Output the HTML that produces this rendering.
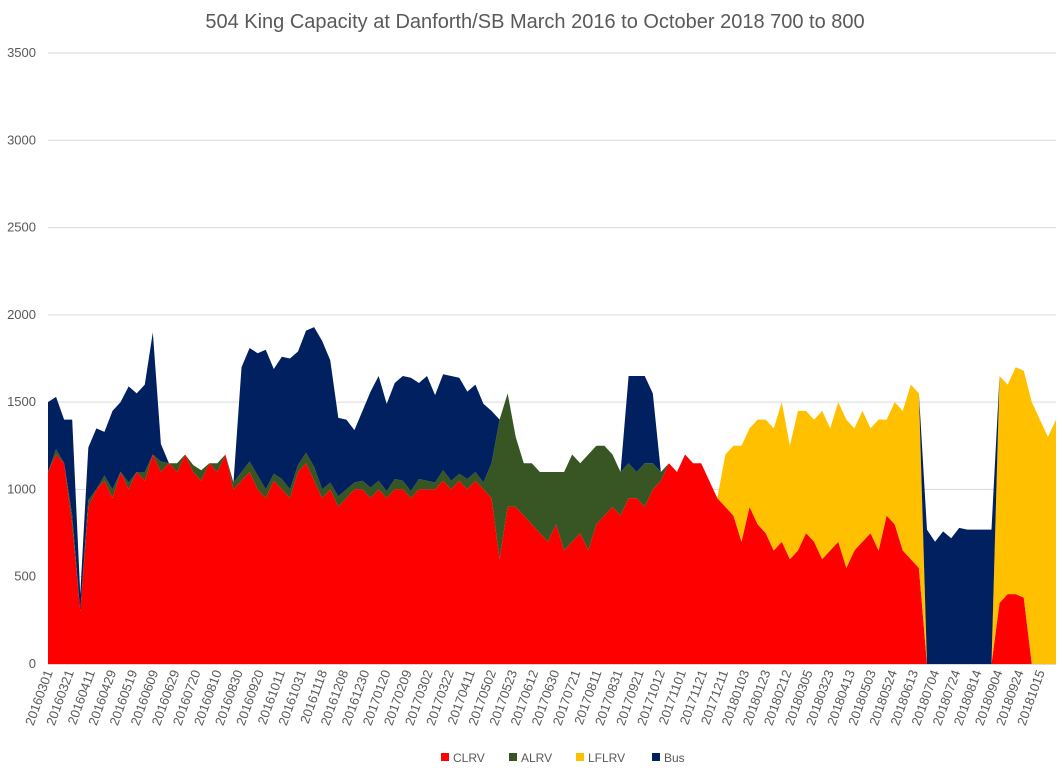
<!DOCTYPE html>
<html><head><meta charset="utf-8"><style>
html,body{margin:0;padding:0;background:#fff;}
svg{display:block;font-family:"Liberation Sans",sans-serif;}
</style></head><body>
<svg id="chart" width="1062" height="768">
<text x="535" y="28" text-anchor="middle" font-size="20" fill="#595959">504 King Capacity at Danforth/SB March 2016 to October 2018  700 to 800</text>
<g id="grid"></g><g id="areas"></g><g id="yticks"></g><g id="xticks"></g>
<g id="legend"></g>
</svg>
<script>
const yTicks=[0,500,1000,1500,2000,2500,3000,3500];
const xLabels=["20160301","20160321","20160411","20160429","20160519","20160609","20160629","20160720","20160810","20160830","20160920","20161011","20161031","20161118","20161208","20161230","20170120","20170209","20170302","20170322","20170411","20170502","20170523","20170612","20170630","20170721","20170811","20170831","20170921","20171012","20171101","20171121","20171211","20180103","20180123","20180212","20180305","20180323","20180413","20180503","20180524","20180613","20180704","20180724","20180814","20180904","20180924","20181015"];
const seriesNames=["CLRV","ALRV","LFLRV","Bus"];
const clrv=[
1100,1200,1150,800,300,900,1000,1050,950,1100,
1000,1100,1050,1200,1100,1150,1100,1200,1100,1050,
1150,1100,1200,1000,1050,1100,1000,950,1050,1000,
950,1100,1150,1050,950,1000,900,950,1000,1000,
950,1000,950,1000,1000,950,1000,1000,1000,1050,
1000,1050,1000,1050,1000,950,600,900,900,850,
800,750,700,800,650,700,750,650,800,850,
900,850,950,950,900,1000,1050,1150,1100,1200,
1150,1150,1050,950,900,850,700,900,800,750,
650,700,600,650,750,700,600,650,700,550,
650,700,750,650,850,800,650,600,550,0,
0,0,0,0,0,0,0,0,350,400,
400,380,0,0,0,0];
const alrv=[
0,30,0,50,0,40,0,30,50,0,
40,0,50,0,60,0,50,0,40,60,
0,50,0,40,50,60,80,50,40,60,
50,40,60,80,50,40,60,50,40,50,
60,50,40,60,50,40,60,50,40,60,
50,40,60,50,40,200,800,650,400,300,
350,350,400,300,450,500,400,550,450,400,
300,250,200,150,250,150,50,0,0,0,
0,0,0,0,0,0,0,0,0,0,
0,0,0,0,0,0,0,0,0,0,
0,0,0,0,0,0,0,0,0,0,
0,0,0,0,0,0,0,0,0,0,
0,0,0,0,0,0];
const lflrv=[
0,0,0,0,0,0,0,0,0,0,
0,0,0,0,0,0,0,0,0,0,
0,0,0,0,0,0,0,0,0,0,
0,0,0,0,0,0,0,0,0,0,
0,0,0,0,0,0,0,0,0,0,
0,0,0,0,0,0,0,0,0,0,
0,0,0,0,0,0,0,0,0,0,
0,0,0,0,0,0,0,0,0,0,
0,0,0,0,300,400,550,450,600,650,
700,800,650,800,700,700,850,700,800,850,
700,750,600,750,550,700,800,1000,1000,0,
0,0,0,0,0,0,0,0,1300,1200,
1300,1300,1500,1400,1300,1400];
const bus=[
400,300,250,550,100,300,350,250,450,400,
550,450,500,700,100,0,0,0,0,0,
0,0,0,0,600,650,700,800,600,700,
750,650,700,800,850,700,450,400,300,400,
550,600,500,550,600,650,550,600,500,550,
600,550,500,500,450,300,0,0,0,0,
0,0,0,0,0,0,0,0,0,0,
0,0,500,550,500,400,0,0,0,0,
0,0,0,0,0,0,0,0,0,0,
0,0,0,0,0,0,0,0,0,0,
0,0,0,0,0,0,0,0,0,770,
700,760,720,780,770,770,770,770,0,0,
0,0,0,0,0,0];
const colors=["#ff0000","#375623","#ffc000","#002060"];
const NS="http://www.w3.org/2000/svg";
const X0=48,X1=1056,Y0=664,Y1=53,YMAX=3500;
const y=v=>Y0-(v/YMAX)*(Y0-Y1);
const n=clrv.length;
const x=i=>X0+i*(X1-X0)/(n-1);
function mk(tag,attrs,parent){const e=document.createElementNS(NS,tag);for(const k in attrs)e.setAttribute(k,attrs[k]);parent.appendChild(e);return e;}
const grid=document.getElementById('grid'),yt=document.getElementById('yticks');
yTicks.forEach(t=>{
  if(t>0){const l=mk('line',{x1:X0,x2:X1,y1:y(t),y2:y(t),stroke:'#d9d9d9','stroke-width':1},grid);
  
  }
  const tx=mk('text',{x:36,y:y(t)+4,'text-anchor':'end','font-size':13,fill:'#595959'},yt);
  tx.textContent=t;
  
  
});
const series=[clrv,alrv,lflrv,bus];
const areas=document.getElementById('areas');
let base=new Array(n).fill(0);
series.forEach((s,k)=>{
  const top=base.map((b,i)=>b+(s[i]||0));
  let d='M'+x(0)+','+y(top[0]);
  for(let i=1;i<n;i++)d+='L'+x(i)+','+y(top[i]);
  for(let i=n-1;i>=0;i--)d+='L'+x(i)+','+y(base[i]);
  d+='Z';
  const p=mk('path',{d:d,fill:colors[k]},areas);
  
  
  base=top;
});
mk('line',{x1:X0,x2:X1,y1:Y0+0.5,y2:Y0+0.5,stroke:'#d9d9d9'},grid);
const xt=document.getElementById('xticks');
const step=(1040-X0)/(xLabels.length-1);
xLabels.forEach((lab,i)=>{
  const px=X0+i*step+5;
  const t=mk('text',{x:px,y:672,'text-anchor':'end','font-size':13,fill:'#595959',transform:'rotate(-70 '+px+' 672)'},xt);
  t.textContent=lab;
  
  
});
const lg=document.getElementById('legend');
const lx=[441,509,576,652];
seriesNames.forEach((nm,k)=>{
  const r=mk('rect',{x:lx[k],y:753,width:8,height:8,fill:colors[k]},lg);
  
  
  const t=mk('text',{x:lx[k]+12,y:762,'font-size':12,fill:'#595959'},lg);
  t.textContent=nm;
  
  
});
</script>
</body></html>
